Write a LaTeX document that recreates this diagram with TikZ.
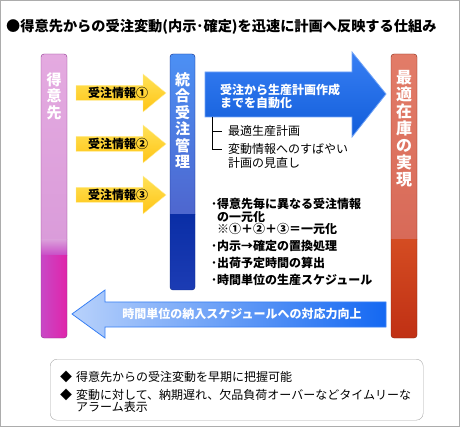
\documentclass[tikz,border=0pt]{standalone}
\usepackage{fontspec}
\setmainfont{Noto Sans CJK JP}
\usetikzlibrary{positioning}

\definecolor{pinktop}{HTML}{E4AAE0}
\definecolor{pinkmid}{HTML}{DA9CDA}
\definecolor{pinklow}{HTML}{C848C6}
\definecolor{pinkdeep}{HTML}{E024AA}
\definecolor{bluetop}{HTML}{4C90F4}
\definecolor{bluemid}{HTML}{4E66CE}
\definecolor{bluelow}{HTML}{0A2EA6}
\definecolor{bluedeep}{HTML}{1C3CB4}
\definecolor{redtop}{HTML}{E27C68}
\definecolor{redmid}{HTML}{D86A58}
\definecolor{redlow}{HTML}{D44C22}
\definecolor{reddeep}{HTML}{C03014}
\definecolor{arrowblue}{HTML}{1468F2}
\definecolor{yellowtop}{HTML}{FFE258}
\definecolor{yellowlow}{HTML}{FFC414}

\tikzset{
  bartext/.style={text=white, font=\bfseries\fontsize{15}{16.5}\selectfont, align=center, anchor=north, inner sep=0pt},
  infolabel/.style={font=\bfseries\fontsize{12}{14}\selectfont, inner sep=0pt},
  whitetext/.style={text=white, font=\bfseries\fontsize{12}{13}\selectfont, align=left, inner sep=0pt},
  bodytext/.style={font=\fontsize{12}{13.5}\selectfont, align=left, anchor=west, inner sep=0pt},
  bullettext/.style={font=\bfseries\fontsize{12}{12.5}\selectfont, align=left, anchor=north west, inner sep=0pt},
}

\begin{document}
\begin{tikzpicture}[x=1pt,y=-1pt]
    \useasboundingbox (0,0) rectangle (460,427);
    % outer frame
    \draw[gray!65, line width=1pt] (0.5,0.5) rectangle (459.5,426.5);

    % title
    \node[anchor=west, font=\bfseries\fontsize{14.2}{16}\selectfont, inner sep=0pt] (title) at (6,27)
        {●得意先からの受注変動(内示･確定)を迅速に計画へ反映する仕組み};

    % left bar: customers
    \begin{scope}
        \clip[rounded corners=3pt] (41,54) rectangle (67,338);
        \shade[top color=pinktop, bottom color=pinkmid] (41,54) rectangle (67,240);
        \shade[top color=pinkmid, bottom color=pinklow] (41,240) rectangle (67,256);
        \shade[left color=pinklow, right color=pinkdeep] (41,256) rectangle (67,338);
    \end{scope}
    \draw[rounded corners=3pt, draw=pinklow!70!black] (41,54) rectangle (67,338);
    \node[bartext] (customer) at (54,72) {得\\意\\先};

    % middle bar: order management
    \begin{scope}
        \clip[rounded corners=3pt] (170,54) rectangle (195,290);
        \shade[top color=bluetop, bottom color=bluemid] (170,54) rectangle (195,215);
        \shade[top color=bluelow, bottom color=bluedeep] (170,215) rectangle (195,290);
    \end{scope}
    \draw[rounded corners=3pt, draw=bluelow!80!black] (170,54) rectangle (195,290);
    \node[bartext] (ordermgmt) at (182.5,72) {統\\合\\受\\注\\管\\理};

    % right bar: optimal stock
    \begin{scope}
        \clip[rounded corners=3pt] (391,54) rectangle (417,338);
        \shade[top color=redtop, bottom color=redmid] (391,54) rectangle (417,240);
        \shade[top color=redlow, bottom color=reddeep] (391,240) rectangle (417,338);
    \end{scope}
    \draw[rounded corners=3pt, draw=reddeep!70!black] (391,54) rectangle (417,338);
    \node[bartext, font=\bfseries\fontsize{16}{17}\selectfont] (stock) at (404,70) {最\\適\\在\\庫\\の\\実\\現};

    % yellow order info arrows
    \foreach \y/\num/\nm in {93/①/one, 144/②/two, 195/③/three} {
        \shade[top color=yellowtop, bottom color=yellowlow, draw=yellowtop!60!white]
            (76,\y-7.5) -- (143,\y-7.5) -- (143,\y-19) -- (166,\y)
            -- (143,\y+19) -- (143,\y+7.5) -- (76,\y+7.5) -- cycle;
        \node[infolabel] (info\nm) at (118,\y) {受注情報\num};
    }

    % big blue arrow towards the stock bar
    \shade[top color=arrowblue!85!white, bottom color=arrowblue!90!black, draw=arrowblue!60!white, line width=0.8pt]
        (205,72) -- (352,72) -- (352,52) -- (386,94) -- (352,137) -- (352,117) -- (205,117) -- cycle;
    \node[whitetext, anchor=north west] (auto) at (220,84) {受注から生産計画作成\\までを自動化};

    % branches under the big arrow
    \coordinate (branch) at (212,117);
    \node[bodytext] (plan) at (228,131) {最適生産計画};
    \node[bodytext, anchor=north west] (review) at (228,143.5) {変動情報へのすばやい\\計画の見直し};
    \draw[line width=0.6pt] (branch) |- ([xshift=-6pt]plan.west);
    \draw[line width=0.6pt] (branch) |- ([xshift=-6pt,yshift=-6pt]review.north west);

    % functions of the order management
    \node[bullettext] (functions) at (211,198)
        {･得意先毎に異なる受注情報\\\phantom{･}の一元化\\\phantom{･}※①＋②＋③＝一元化\\[4.5pt]
         ･内示→確定の置換処理\\[4.5pt]･出荷予定時間の算出\\[4.5pt]･時間単位の生産スケジュール};

    % blue arrow back to the customers
    \shade[left color=arrowblue!30!white, right color=arrowblue, draw=arrowblue!85!white, line width=0.8pt]
        (386,302) -- (105,302) -- (105,290) -- (72,314) -- (105,338) -- (105,327) -- (386,327) -- cycle;
    \node[whitetext] (hourly) at (242,313.5) {時間単位の納入スケジュールへの対応力向上};

    % summary box
    \node[draw=gray!70, rounded corners=7pt, minimum width=373pt, minimum height=61pt,
          anchor=north west, inner sep=0pt] (summary) at (50,359) {};
    \node[bodytext, anchor=north west, font=\fontsize{12}{12.5}\selectfont] (points) at (60,371)
        {◆\hspace{4pt}得意先からの受注変動を早期に把握可能\\[5pt]
         ◆\hspace{4pt}変動に対して、納期遅れ、欠品負荷オーバーなどタイムリーな\\
         \hspace{16pt}アラーム表示};
\end{tikzpicture}
\end{document}
